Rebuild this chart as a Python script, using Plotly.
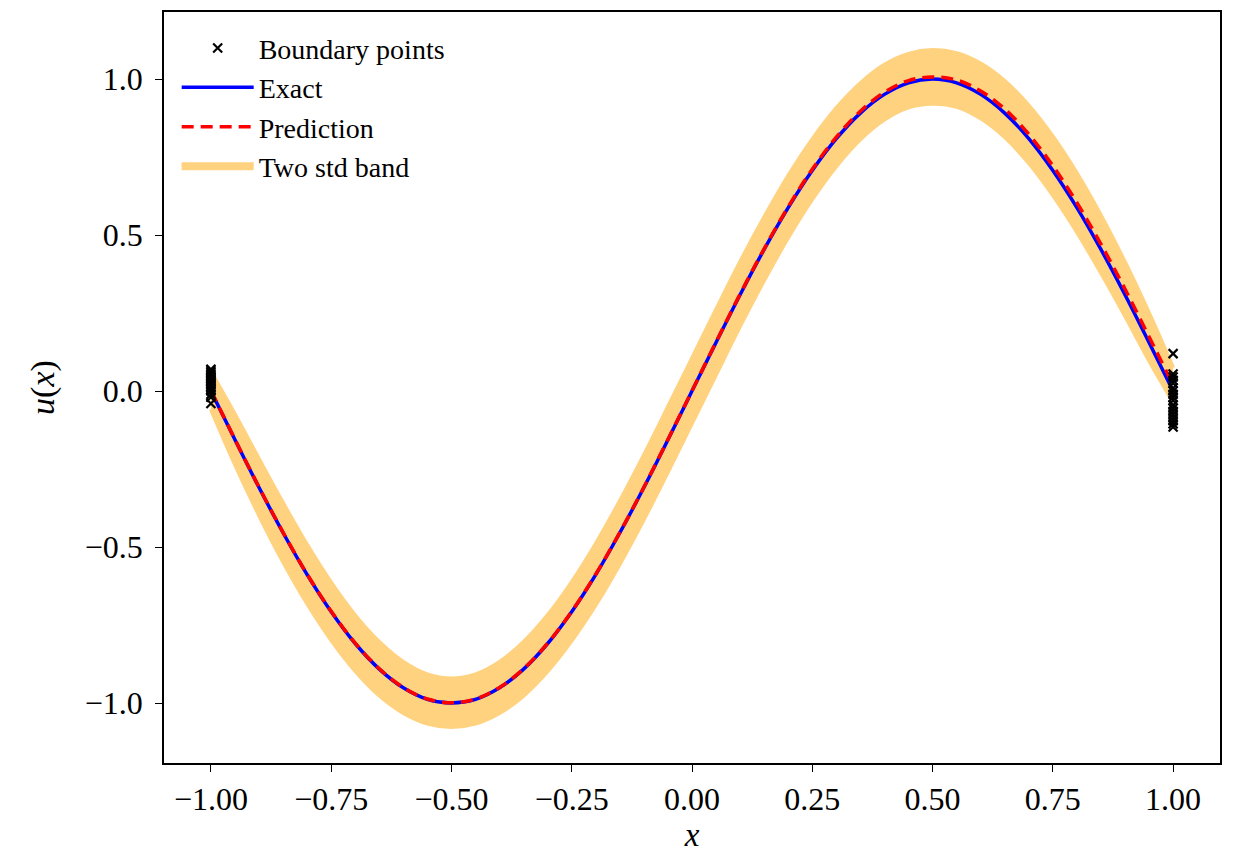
import plotly.graph_objects as go

# grid of x positions
x_grid = [-1.00, -0.95, -0.90, -0.85, -0.80, -0.75, -0.70, -0.65, -0.60, -0.55, -0.50,
          -0.45, -0.40, -0.35, -0.30, -0.25, -0.20, -0.15, -0.10, -0.05, 0.00,
          0.05, 0.10, 0.15, 0.20, 0.25, 0.30, 0.35, 0.40, 0.45, 0.50,
          0.55, 0.60, 0.65, 0.70, 0.75, 0.80, 0.85, 0.90, 0.95, 1.00]

exact_u = [0.000, -0.156, -0.309, -0.454, -0.588, -0.707, -0.809, -0.891, -0.951, -0.988, -1.000,
           -0.988, -0.951, -0.891, -0.809, -0.707, -0.588, -0.454, -0.309, -0.156, 0.000,
           0.156, 0.309, 0.454, 0.588, 0.707, 0.809, 0.891, 0.951, 0.988, 1.000,
           0.988, 0.951, 0.891, 0.809, 0.707, 0.588, 0.454, 0.309, 0.156, 0.000]

pred_u = [0.002, -0.155, -0.308, -0.453, -0.587, -0.706, -0.808, -0.890, -0.950, -0.987, -0.999,
          -0.987, -0.950, -0.890, -0.808, -0.706, -0.587, -0.453, -0.308, -0.155, 0.001,
          0.157, 0.311, 0.456, 0.591, 0.711, 0.814, 0.897, 0.958, 0.995, 1.007,
          0.997, 0.962, 0.904, 0.823, 0.722, 0.604, 0.471, 0.327, 0.174, 0.020]

two_std = [0.060, 0.080, 0.090, 0.094, 0.094, 0.092, 0.089, 0.086, 0.082, 0.079, 0.078,
           0.079, 0.082, 0.086, 0.090, 0.094, 0.098, 0.101, 0.103, 0.104, 0.104,
           0.104, 0.103, 0.101, 0.099, 0.096, 0.093, 0.090, 0.088, 0.086, 0.086,
           0.086, 0.088, 0.090, 0.092, 0.094, 0.094, 0.092, 0.086, 0.076, 0.055]

# boundary observations
bnd_left_x = [-1.0] * 18
bnd_left_u = [0.070, 0.065, 0.060, 0.055, 0.050, 0.045, 0.040, 0.035, 0.030,
              0.025, 0.020, 0.015, 0.010, 0.005, 0.000, -0.010, -0.020, -0.040]
bnd_right_x = [1.0] * 18
bnd_right_u = [0.120, 0.055, 0.045, 0.035, 0.025, 0.010, 0.000, -0.010, -0.020,
               -0.030, -0.045, -0.055, -0.065, -0.075, -0.085, -0.095, -0.105, -0.115]

x_ticks = [-1.00, -0.75, -0.50, -0.25, 0.00, 0.25, 0.50, 0.75, 1.00]
y_ticks = [-1.0, -0.5, 0.0, 0.5, 1.0]

FONT = "Liberation Serif"
BAND = "rgb(255,210,128)"
upper = [u + s for u, s in zip(pred_u, two_std)]
lower = [u - s for u, s in zip(pred_u, two_std)]

fig = go.Figure()
fig.add_trace(go.Scatter(x=x_grid, y=upper, mode="lines", line=dict(width=4, color=BAND, shape="spline"),
                         showlegend=False, hoverinfo="skip"))
fig.add_trace(go.Scatter(x=x_grid, y=lower, mode="lines", line=dict(width=4, color=BAND, shape="spline"),
                         fill="tonexty", fillcolor=BAND,
                         name="Two std band", legendrank=4))
fig.add_trace(go.Scatter(x=x_grid, y=exact_u, mode="lines",
                         line=dict(color="rgb(0,0,255)", width=3.5, shape="spline"),
                         name="Exact", legendrank=2))
fig.add_trace(go.Scatter(x=x_grid, y=pred_u, mode="lines",
                         line=dict(color="rgb(255,0,0)", width=3.5, dash="12px,7px", shape="spline"),
                         name="Prediction", legendrank=3))
fig.add_trace(go.Scatter(x=bnd_left_x + bnd_right_x, y=bnd_left_u + bnd_right_u, mode="markers",
                         marker=dict(symbol="x-thin", size=9, line=dict(color="black", width=2.2),
                                     color="black"),
                         name="Boundary points", legendrank=1))

axis_common = dict(showgrid=False, zeroline=False, showline=True, linecolor="black", linewidth=1.5,
                   mirror=True, ticks="outside", ticklen=7, tickwidth=1.2, tickcolor="black",
                   automargin=False,
                   tickfont=dict(family=FONT, size=32, color="black"))
fig.update_xaxes(range=[-1.0975, 1.0975], tickvals=x_ticks,
                 ticktext=[f"{v:.2f}".replace("-", "\u2212") for v in x_ticks],
                 title=dict(text="<i>x</i>", font=dict(family=FONT, size=33, color="black"), standoff=6),
                 **axis_common)
fig.update_yaxes(range=[-1.192, 1.215], tickvals=y_ticks,
                 ticktext=[f"{v:.1f}".replace("-", "\u2212") for v in y_ticks],
                 ticklabelstandoff=6,
                 title=dict(text="<i>u</i>(<i>x</i>)", font=dict(family=FONT, size=34, color="black"), standoff=20),
                 **axis_common)

fig.update_layout(width=1234, height=856, margin=dict(l=156, r=22, t=4, b=101),
                  plot_bgcolor="white", paper_bgcolor="white",
                  font=dict(family=FONT, color="black"),
                  legend=dict(x=0.012, y=0.985, xanchor="left", yanchor="top", traceorder="normal",
                              bgcolor="rgba(0,0,0,0)", font=dict(family=FONT, size=28, color="black"),
                              itemwidth=72, tracegroupgap=0))

fig.write_html("out.html")
